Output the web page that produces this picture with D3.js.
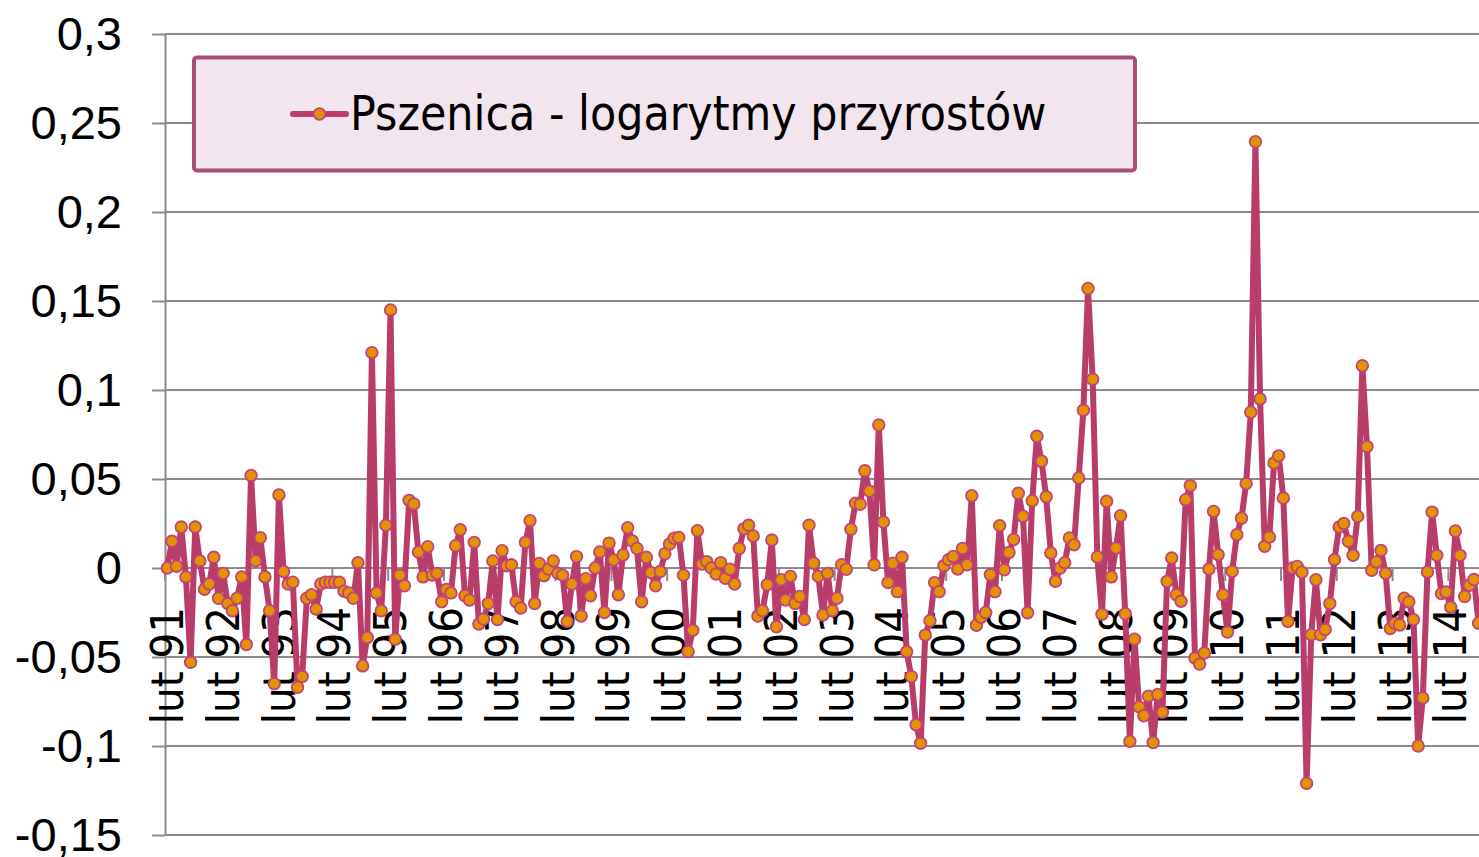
<!DOCTYPE html>
<html>
<head>
<meta charset="utf-8">
<script src="https://cdn.jsdelivr.net/npm/d3@7"></script>
<style>
  html, body { margin: 0; padding: 0; background: #fff; overflow: hidden; }
  svg { display: block; font-family: "DejaVu Sans Condensed", "DejaVu Sans", sans-serif; font-stretch: condensed; }
</style>
</head>
<body>
<svg width="1479" height="857"></svg>
<script>
// series: monthly log returns, starting lut 91
const seriesName = "Pszenica - logarytmy przyrostów";
const monthNames = ["sty", "lut", "mar", "kwi", "maj", "cze", "lip", "sie", "wrz", "paź", "lis", "gru"];
const values = [
  0.000, 0.015, 0.001, 0.023, -0.005, -0.053, 0.023, 0.004, -0.012, -0.009, 0.006, -0.017,
  -0.003, -0.020, -0.024, -0.017, -0.005, -0.043, 0.052, 0.004, 0.017, -0.005, -0.024, -0.065,
  0.041, -0.002, -0.009, -0.008, -0.067, -0.061, -0.017, -0.015, -0.023, -0.009, -0.008, -0.008,
  -0.008, -0.008, -0.013, -0.014, -0.017, 0.003, -0.055, -0.039, 0.121, -0.014, -0.024, 0.024,
  0.145, -0.040, -0.004, -0.010, 0.038, 0.036, 0.009, -0.005, 0.012, -0.004, -0.003, -0.019,
  -0.012, -0.014, 0.0125, 0.0215, -0.0156, -0.018, 0.0144, -0.0315, -0.0287, -0.020, 0.004, -0.029,
  0.0097, 0.0013, 0.0018, -0.019, -0.0225, 0.0144, 0.0266, -0.020, 0.0026, -0.0043, -0.0006, 0.004,
  -0.003, -0.004, -0.030, -0.009, 0.0064, -0.027, -0.006, -0.0156, 0.000, 0.009, -0.025, 0.014,
  0.0045, -0.015, 0.0073, 0.0226, 0.0152, 0.011, -0.019, 0.006, -0.0026, -0.010, -0.002, 0.008,
  0.0135, 0.0167, 0.0172, -0.004, -0.047, -0.035, 0.021, 0.0022, 0.0036, 0.000, -0.0034, 0.003,
  -0.0058, -0.0007, -0.009, 0.011, 0.022, 0.024, 0.018, -0.027, -0.024, -0.0094, 0.0157, -0.033,
  -0.0066, -0.018, -0.0047, -0.020, -0.016, -0.029, 0.024, 0.0027, -0.0047, -0.0264, -0.003, -0.024,
  -0.017, 0.0018, -0.0007, 0.0218, 0.0364, 0.0358, 0.0546, 0.0432, 0.0018, 0.0803, 0.0258, -0.0082,
  0.0027, -0.0133, 0.006, -0.047, -0.061, -0.088, -0.0985, -0.0377, -0.0296, -0.0082, -0.0133, 0.0013,
  0.0047, 0.0065, -0.0006, 0.011, 0.0018, 0.0406, -0.0322, -0.0277, -0.025, -0.0037, -0.0133, 0.0238,
  -0.001, 0.0087, 0.016, 0.042, 0.0291, -0.0251, 0.0378, 0.074, 0.060, 0.040, 0.0084, -0.0075,
  0.000, 0.003, 0.0169, 0.013, 0.0506, 0.0886, 0.157, 0.106, 0.0062, -0.026, 0.0375, -0.005,
  0.0112, 0.0294, -0.0257, -0.0974, -0.040, -0.078, -0.083, -0.072, -0.098, -0.071, -0.081, -0.0075,
  0.0056, -0.015, -0.0187, 0.0384, 0.0463, -0.0506, -0.054, -0.0478, -0.0006, 0.0318, 0.0075, -0.015,
  -0.036, -0.0019, 0.0187, 0.028, 0.0474, 0.0875, 0.2395, 0.095, 0.0122, 0.0174, 0.059, 0.063,
  0.0393, -0.030, 0.000, 0.0009, -0.0024, -0.121, -0.0375, -0.0066, -0.0375, -0.0346, -0.020, 0.0047,
  0.023, 0.025, 0.015, 0.0071, 0.029, 0.1136, 0.0682, -0.0013, 0.0034, 0.0099, -0.003, -0.034,
  -0.031, -0.032, -0.017, -0.019, -0.029, -0.100, -0.073, -0.0022, 0.0314, 0.0071, -0.0144, -0.0135,
  -0.022, 0.0208, 0.0071, -0.016, -0.0097, -0.0065, -0.031
];
const yTicks = [-0.15, -0.1, -0.05, 0, 0.05, 0.1, 0.15, 0.2, 0.25, 0.3];

// category labels "lut 91", "mar 91", ...
const categories = values.map((v, i) => {
    const m = (1 + i) % 12;
    const yr = 1991 + Math.floor((1 + i) / 12);
    return monthNames[m] + " " + String(yr).slice(2);
});
const tickLabels = categories.filter(c => c.startsWith("lut"));

const svg = d3.select("svg");
const width = +svg.attr("width");

const plotLeft = 165;
const step = 4.65;
const lineColor = "#b93d6a";
const markerColor = "#e39200";
const markerStroke = "#c2437a";
const gridColor = "#8c8c8c";

const x = d3.scaleBand()
    .domain(categories)
    .range([plotLeft, plotLeft + categories.length * step]);
const y = d3.scaleLinear()
    .domain([-0.15, 0.3])
    .range([835, 34]);

// horizontal gridlines
svg.append("g")
    .selectAll("line")
    .data(yTicks)
    .join("line")
    .attr("x1", plotLeft)
    .attr("x2", width)
    .attr("y1", d => y(d))
    .attr("y2", d => y(d))
    .attr("stroke", gridColor)
    .attr("stroke-width", 2);

// y axis
const yAxis = svg.append("g")
    .attr("transform", `translate(${plotLeft},0)`)
    .call(d3.axisLeft(y)
        .tickValues(yTicks)
        .tickSize(13)
        .tickSizeOuter(0)
        .tickPadding(30)
        .tickFormat(d => String(+d.toFixed(2)).replace(".", ",")));
yAxis.select(".domain").attr("stroke", gridColor).attr("stroke-width", 2);
yAxis.selectAll(".tick line").attr("stroke", gridColor).attr("stroke-width", 2);
yAxis.selectAll(".tick text")
    .attr("fill", "#000")
    .style("font-size", "47px")
    .style("font-family", null);

// category ticks at the zero line, every february
const xAxis = svg.append("g");
xAxis.selectAll("line")
    .data(tickLabels)
    .join("line")
    .attr("x1", d => x(d))
    .attr("x2", d => x(d))
    .attr("y1", y(0))
    .attr("y2", y(0) + 13)
    .attr("stroke", gridColor)
    .attr("stroke-width", 2);
xAxis.selectAll("text")
    .data(tickLabels)
    .join("text")
    .attr("transform", d => `translate(${x(d) + x.bandwidth() / 2},607) rotate(-90)`)
    .attr("text-anchor", "end")
    .attr("dy", "0.35em")
    .style("font-size", "45px")
    .text(d => d);

// series line and markers
const line = d3.line()
    .x((d, i) => x(categories[i]) + x.bandwidth() / 2)
    .y(d => y(d));
svg.append("path")
    .attr("d", line(values))
    .attr("fill", "none")
    .attr("stroke", lineColor)
    .attr("stroke-width", 6)
    .attr("stroke-linejoin", "round");
svg.append("g")
    .selectAll("circle")
    .data(values)
    .join("circle")
    .attr("cx", (d, i) => x(categories[i]) + x.bandwidth() / 2)
    .attr("cy", d => y(d))
    .attr("r", 5.8)
    .attr("fill", markerColor)
    .attr("stroke", markerStroke)
    .attr("stroke-width", 1.8);

// legend
const legend = svg.append("g");
legend.append("rect")
    .attr("x", 194)
    .attr("y", 57.5)
    .attr("width", 941)
    .attr("height", 113)
    .attr("rx", 3)
    .attr("fill", "#f3e5ed")
    .attr("stroke", "#a94e79")
    .attr("stroke-width", 4);
legend.append("line")
    .attr("x1", 293)
    .attr("x2", 346)
    .attr("y1", 114)
    .attr("y2", 114)
    .attr("stroke", lineColor)
    .attr("stroke-width", 6)
    .attr("stroke-linecap", "round");
legend.append("circle")
    .attr("cx", 319.5)
    .attr("cy", 114)
    .attr("r", 5.8)
    .attr("fill", markerColor)
    .attr("stroke", markerStroke)
    .attr("stroke-width", 1.8);
legend.append("text")
    .attr("x", 350)
    .attr("y", 130)
    .style("font-size", "47.7px")
    .text(seriesName);
</script>
</body>
</html>
